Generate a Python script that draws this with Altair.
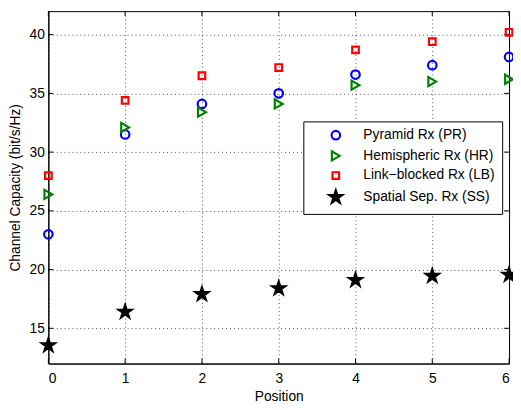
import altair as alt
import pandas as pd

positions = [0, 1, 2, 3, 4, 5, 6]
pyramid = [23.0, 31.5, 34.1, 35.0, 36.6, 37.4, 38.1]
hemispheric = [26.4, 32.1, 33.4, 34.1, 35.7, 36.0, 36.2]
link_blocked = [28.0, 34.4, 36.5, 37.2, 38.7, 39.4, 40.2]
spatial = [13.55, 16.4, 17.9, 18.4, 19.1, 19.45, 19.55]

series_names = ["Pyramid Rx (PR)", "Hemispheric Rx (HR)",
                "Link\u2212blocked Rx (LB)", "Spatial Sep. Rx (SS)"]
x_ticks = [0, 1, 2, 3, 4, 5, 6]
y_ticks = [15, 20, 25, 30, 35, 40]

STAR = ("M0,-1L0.225,-0.309L0.951,-0.309L0.363,0.118L0.588,0.809L0,0.382"
        "L-0.588,0.809L-0.363,0.118L-0.951,-0.309L-0.225,-0.309Z")

rows = []
for name, vals in zip(series_names, [pyramid, hemispheric, link_blocked, spatial]):
    for p, v in zip(positions, vals):
        rows.append({"position": p, "capacity": v, "series": name})
df = pd.DataFrame(rows)

W, H = 468, 358
FONT = "Liberation Sans"
xscale = alt.Scale(domain=[0, 6], nice=False, zero=False)
yscale = alt.Scale(domain=[12, 42], nice=False, zero=False)
xaxis = alt.Axis(values=x_ticks, title="Position", grid=True, format="d",
                 labelPadding=8, titlePadding=5)
yaxis = alt.Axis(values=y_ticks, title="Channel Capacity (bit/s/Hz)", grid=True,
                 format="d", labelPadding=4, titlePadding=7)

points = alt.Chart(df).mark_point(strokeWidth=2.2, opacity=1, clip=False).encode(
    x=alt.X("position:Q", scale=xscale, axis=xaxis),
    y=alt.Y("capacity:Q", scale=yscale, axis=yaxis),
    shape=alt.Shape("series:N", title=None,
                    scale=alt.Scale(domain=series_names,
                                    range=["circle", "triangle-right", "square", STAR])),
    stroke=alt.Stroke("series:N", title=None,
                      scale=alt.Scale(domain=series_names,
                                      range=["#0000ff", "#008000", "#ff0000", "#000000"])),
    fill=alt.Fill("series:N", title=None,
                  scale=alt.Scale(domain=series_names,
                                  range=["transparent", "transparent", "transparent", "#000000"])),
    size=alt.Size("series:N", title=None,
                  scale=alt.Scale(type="ordinal", domain=series_names, range=[75, 85, 45, 190])),
)

xt = pd.DataFrame({"position": x_ticks})
yt = pd.DataFrame({"capacity": y_ticks})

tick_b = alt.Chart(xt).mark_rule(color="black", strokeWidth=1).encode(
    x=alt.X("position:Q", scale=xscale, axis=xaxis),
    y=alt.value(H), y2=alt.value(H - 5))
tick_t = alt.Chart(xt).mark_rule(color="black", strokeWidth=1).encode(
    x=alt.X("position:Q", scale=xscale, axis=xaxis),
    y=alt.value(0), y2=alt.value(5))
tick_l = alt.Chart(yt).mark_rule(color="black", strokeWidth=1).encode(
    y=alt.Y("capacity:Q", scale=yscale, axis=yaxis),
    x=alt.value(0), x2=alt.value(5))
tick_r = alt.Chart(yt).mark_rule(color="black", strokeWidth=1).encode(
    y=alt.Y("capacity:Q", scale=yscale, axis=yaxis),
    x=alt.value(W - 5), x2=alt.value(W))

chart = alt.layer(tick_b, tick_t, tick_l, tick_r, points).properties(
    width=W, height=H,
    autosize=alt.AutoSizeParams(type="none"),
    padding={"left": 41, "top": 0, "right": 4, "bottom": 44},
    background="white",
).configure_view(
    stroke="black", strokeWidth=1
).configure_axis(
    labelFont=FONT, labelFontSize=14, labelColor="black",
    titleFont=FONT, titleFontSize=14, titleFontWeight="normal", titleColor="black",
    ticks=False, domainColor="black", domainWidth=1,
    gridColor="#000000", gridOpacity=0.7, gridDash=[1, 3], gridWidth=1,
).configure_legend(
    orient="none", legendX=259, legendY=112,
    strokeColor="black", fillColor="white", padding=7,
    labelFont=FONT, labelFontSize=14, labelColor="black",
    symbolStrokeWidth=2.2, rowPadding=2, symbolOffset=18, labelOffset=20,
)

chart.save("out.html", embed_options={"renderer": "svg", "actions": False})
